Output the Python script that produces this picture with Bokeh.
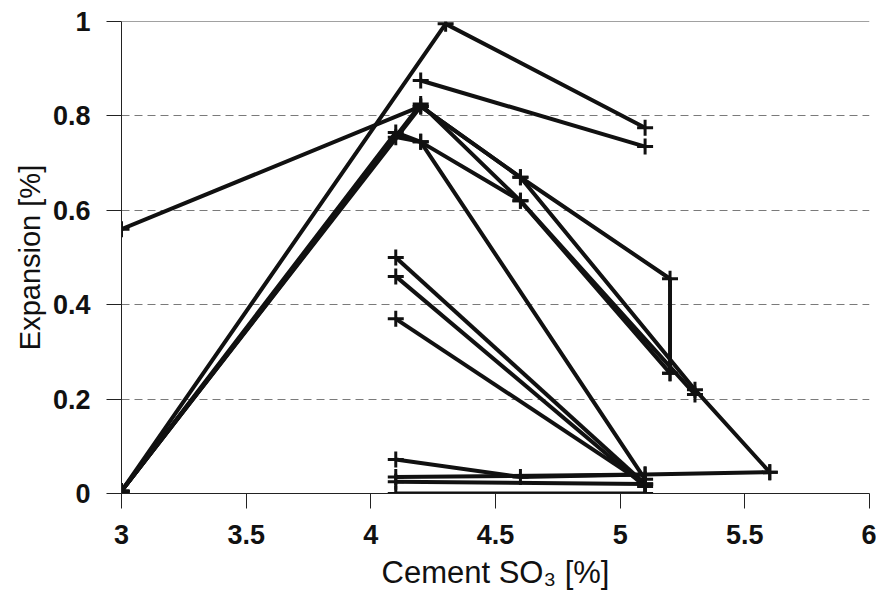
from bokeh.plotting import figure
from bokeh.models import Range1d, FixedTicker, Span
from bokeh.embed import file_html
from bokeh.resources import INLINE

# ---- data ----
x_ticks = [3, 3.5, 4, 4.5, 5, 5.5, 6]
x_tick_labels = ["3", "3.5", "4", "4.5", "5", "5.5", "6"]
y_ticks = [0, 0.2, 0.4, 0.6, 0.8, 1]
y_tick_labels = ["0", "0.2", "0.4", "0.6", "0.8", "1"]

s1_x = [3.0, 4.3, 5.1];            s1_y = [0.005, 0.995, 0.775]
s2_x = [4.2, 5.1];                 s2_y = [0.875, 0.735]
s3_x = [3.0, 4.2, 4.6, 5.2, 5.2];  s3_y = [0.56, 0.82, 0.67, 0.455, 0.255]
s4_x = [3.0, 4.2, 4.6, 5.2];       s4_y = [0.005, 0.825, 0.62, 0.255]
s5_x = [3.0, 4.1, 4.2, 5.1];       s5_y = [0.005, 0.765, 0.745, 0.03]
s6_x = [3.0, 4.2, 4.6, 5.3, 5.6];  s6_y = [0.005, 0.82, 0.67, 0.22, 0.045]
s7_x = [3.0, 4.1, 4.2, 4.6, 5.3];  s7_y = [0.005, 0.755, 0.745, 0.62, 0.21]
s8_x = [4.1, 5.1];                 s8_y = [0.50, 0.02]
s9_x = [4.1, 5.1];                 s9_y = [0.46, 0.015]
s10_x = [4.1, 5.1];                s10_y = [0.37, 0.02]
s11_x = [4.1, 4.6, 5.1];           s11_y = [0.072, 0.035, 0.04]
s12_x = [4.1, 5.1, 5.6];           s12_y = [0.035, 0.04, 0.045]
s13_x = [4.1, 5.1];                s13_y = [0.025, 0.02]
s14_x = [4.1, 5.1];                s14_y = [0.0, 0.0]

series = [(s1_x, s1_y), (s2_x, s2_y), (s3_x, s3_y), (s4_x, s4_y), (s5_x, s5_y),
          (s6_x, s6_y), (s7_x, s7_y), (s8_x, s8_y), (s9_x, s9_y), (s10_x, s10_y),
          (s11_x, s11_y), (s12_x, s12_y), (s13_x, s13_y), (s14_x, s14_y)]

FONT = "Liberation Sans"
INK = "#111111"

W, H = 876, 593
LEFT, RIGHT, TOP, BOTTOM = 121, 7, 21, 100

p = figure(width=W, height=H,
           x_range=Range1d(3.0, 6.0), y_range=Range1d(0.0, 1.0),
           output_backend="svg", toolbar_location=None,
           min_border_left=LEFT, min_border_right=RIGHT,
           min_border_top=TOP, min_border_bottom=BOTTOM)
p.outline_line_color = None
p.background_fill_color = "white"
p.border_fill_color = "white"

# axes
p.xaxis.ticker = FixedTicker(ticks=x_ticks)
p.yaxis.ticker = FixedTicker(ticks=y_ticks)
p.xaxis.major_label_overrides = {t: l for t, l in zip(x_ticks, x_tick_labels)}
p.yaxis.major_label_overrides = {t: l for t, l in zip(y_ticks, y_tick_labels)}
for ax in (p.xaxis, p.yaxis):
    ax.axis_line_color = "#222222"
    ax.axis_line_width = 1
    ax.major_tick_line_color = "#222222"
    ax.major_tick_line_width = 1
    ax.major_tick_out = 15
    ax.major_tick_in = 0
    ax.minor_tick_line_color = None
    ax.major_label_text_font = FONT
    ax.major_label_text_font_size = "27px"
    ax.major_label_text_font_style = "bold"
    ax.major_label_text_color = INK
    ax.axis_label_text_font = FONT
    ax.axis_label_text_font_style = "normal"
    ax.axis_label_text_color = INK
p.xaxis.major_label_standoff = 16
p.yaxis.major_label_standoff = 16
p.xaxis.axis_label = "Cement SO\u2083 [%]"
p.yaxis.axis_label = "Expansion [%]"
p.xaxis.axis_label_text_font_size = "31px"
p.yaxis.axis_label_text_font_size = "29px"
p.xaxis.axis_label_standoff = 8
p.yaxis.axis_label_standoff = 4

# grid
p.xgrid.grid_line_color = None
p.ygrid.ticker = FixedTicker(ticks=[0.2, 0.4, 0.6, 0.8])
p.ygrid.grid_line_color = "#7a7a7a"
p.ygrid.grid_line_dash = "8 5"
p.ygrid.grid_line_width = 1
p.add_layout(Span(location=1.0, dimension="width", line_color="#444444", line_width=1))

# data
for xs, ys in series:
    p.line(xs, ys, line_color=INK, line_width=4)
    p.scatter(xs, ys, marker="cross", size=16, line_color=INK, line_width=3)

open("out.html", "w").write(file_html(p, INLINE))
